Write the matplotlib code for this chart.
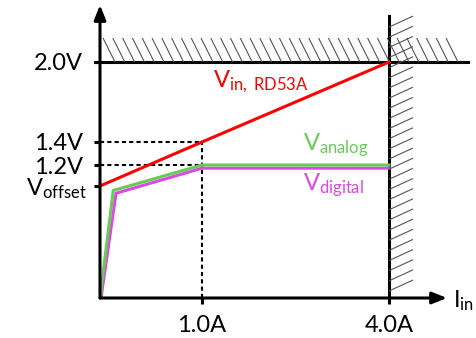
import numpy as np
import matplotlib
matplotlib.use("Agg")
import matplotlib.pyplot as plt
from matplotlib.collections import LineCollection
from matplotlib.transforms import IdentityTransform

plt.rcParams["font.family"] = ["Lato", "DejaVu Sans"]
plt.rcParams["mathtext.fontset"] = "custom"
plt.rcParams["mathtext.rm"] = "Lato"
plt.rcParams["mathtext.it"] = "Lato:italic"
plt.rcParams["mathtext.default"] = "rm"

# Operating limits and reference levels
I_MAX = 4.0      # A
V_MAX = 2.0      # V
V_OFFSET = 1.0   # V, nominal value only used for placement

current_ticks = [1.0, 4.0]
current_labels = ["1.0A", "4.0A"]
voltage_ticks = [1.2, 1.4, 2.0]
voltage_labels = ["1.2V", "1.4V", "2.0V"]

# Input voltage of the chip vs input current
i_vin = [0.0, 1.0, 4.0]
v_vin = [V_OFFSET, 1.4, 2.0]

# Regulator outputs
i_analog = [0.0, 0.13, 1.0, 4.0]
v_analog = [0.0, 0.96, 1.2, 1.2]

i_digital = [0.01, 0.157, 1.0, 4.0]
v_digital = [0.0, 0.935, 1.17, 1.17]

# Sketch is not to scale: piecewise linear axes through the marked points
x_knots = [0.0, 1.0, 4.0, 6.0]
x_span = [0.0, 102.0, 289.0, 413.7]
y_knots = [0.0, 1.0, 1.2, 1.4, 2.0, 3.0]
y_span = [0.0, 112.0, 133.0, 156.0, 236.0, 369.0]


def x_fwd(v):
    return np.interp(v, x_knots, x_span)


def x_inv(p):
    return np.interp(p, x_span, x_knots)


def y_fwd(v):
    return np.interp(v, y_knots, y_span)


def y_inv(p):
    return np.interp(p, y_span, y_knots)


fig = plt.figure(figsize=(4.76, 3.38), dpi=100)
ax = fig.add_axes([100 / 476, 40 / 338, 347 / 476, 293 / 338])
ax.set_xscale("function", functions=(x_fwd, x_inv))
ax.set_yscale("function", functions=(y_fwd, y_inv))
ax.set_xlim(0, x_inv(347))
ax.set_ylim(0, y_inv(293))
for s in ax.spines.values():
    s.set_visible(False)

ax.set_xticks(current_ticks, current_labels)
ax.set_yticks(voltage_ticks + [V_OFFSET], voltage_labels + [""])
ax.minorticks_off()
ax.tick_params(direction="out", length=4.5, width=2.2, pad=8, labelsize=17)

# axes with arrow heads
arrow = dict(arrowstyle="-|>,head_length=0.55,head_width=0.22", lw=2.2,
             color="k", shrinkA=0, shrinkB=0, mutation_scale=16)
ax.annotate("", xy=(1, 0), xytext=(0, 0), xycoords="axes fraction", arrowprops=arrow)
ax.annotate("", xy=(0, 1), xytext=(0, 0), xycoords="axes fraction", arrowprops=arrow)

# limits
ax.axhline(V_MAX, xmin=-5 / 347, xmax=368 / 347, color="k", lw=2.2, clip_on=False)
ax.axvline(I_MAX, ymin=0, ymax=282 / 293, color="k", lw=2.2, clip_on=False)

# guide lines at 1.0A
dash = (0, (2, 1.5))
ax.plot([0, 1.0], [1.4, 1.4], color="k", lw=1.5, ls=dash)
ax.plot([0, 1.0], [1.2, 1.2], color="k", lw=1.5, ls=dash)
ax.plot([1.0, 1.0], [0, 1.4], color="k", lw=1.5, ls=dash)

ax.plot(i_digital, v_digital, color="#E045E8", lw=2.2, solid_joinstyle="miter")
ax.plot(i_analog, v_analog, color="#66CC55", lw=2.2, solid_joinstyle="miter")
ax.plot(i_vin, v_vin, color="#FF0000", lw=2.2, clip_on=False)

# hatched forbidden regions (drawn in pixels)
fig.canvas.draw()
cx, cy = ax.transData.transform((I_MAX, V_MAX))
ox, oy = ax.transData.transform((0, 0))
hx = np.arange(ox + 15, cx + 70, 9.8)
top = [[(x - 12, cy + 24), (x, cy)] for x in hx]
vy = np.arange(oy + 7, cy + 36, 10.15)
side = [[(cx, y), (cx + 24, y + 11)] for y in vy]
for segs in (top, side):
    fig.add_artist(LineCollection(segs, colors="#555555", linewidths=0.8,
                                  transform=IdentityTransform()))

# labels
ax.annotate("$V_{offset}$", xy=(0, V_OFFSET), xycoords=("axes fraction", "data"),
            xytext=(-13, 0), textcoords="offset pixels", ha="right",
            va="center_baseline", fontsize=17, annotation_clip=False)
ax.text(1.18, 1.81, r"$V_{in,\ RD53A}$", color="#FF0000", fontsize=17)
ax.text(2.62, 1.33, "$V_{analog}$", color="#66CC55", fontsize=17)
ax.text(2.62, 0.964, "$V_{digital}$", color="#E045E8", fontsize=17)
ax.annotate("$I_{in}$", xy=(1, 0), xycoords="axes fraction",
            xytext=(6, -9), textcoords="offset pixels", fontsize=17,
            annotation_clip=False)

fig.savefig("out.png", dpi=100)
